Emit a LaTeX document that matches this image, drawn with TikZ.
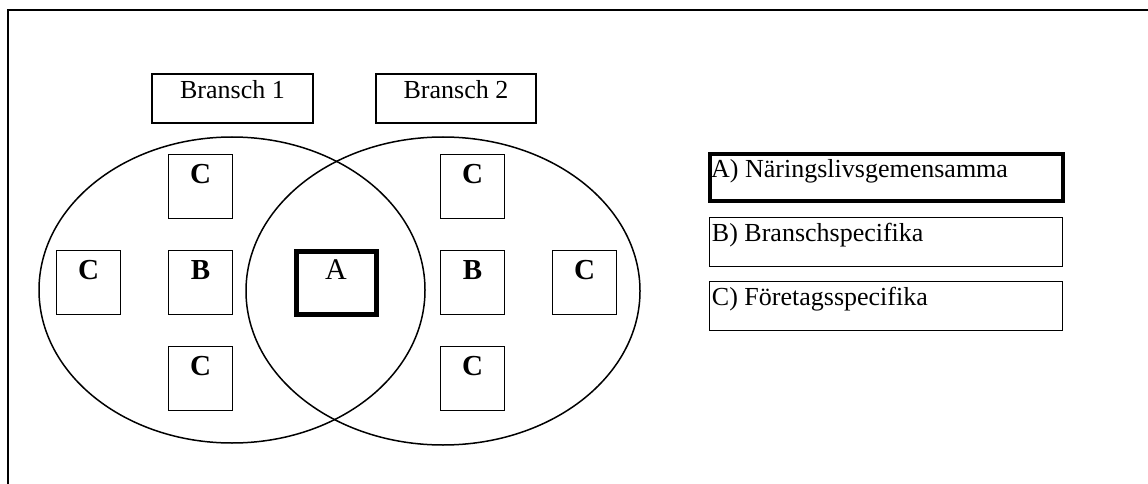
\documentclass[tikz,border=0pt]{standalone}
\usepackage{fontspec}
\setmainfont{Liberation Serif}
\usetikzlibrary{shapes.geometric}
\begin{document}
\begin{tikzpicture}[x=1pt,y=-1pt,
  thinline/.style={line width=1.5pt},
  brbox/.style={draw,thinline,rectangle,inner sep=0pt,minimum width=161,minimum height=49},
  sqbox/.style={draw,thinline,rectangle,inner sep=0pt,minimum width=64,minimum height=64},
  abox/.style={draw,line width=5pt,rectangle,inner sep=0pt,minimum width=80,minimum height=63},
  legbox/.style={draw,thinline,rectangle,inner sep=0pt,minimum width=353,minimum height=49},
  venn/.style={draw,thinline,ellipse,inner sep=0pt},
  txt/.style={font=\fontsize{26}{30}\selectfont,inner sep=0pt},
  big/.style={font=\fontsize{29}{32}\selectfont\bfseries,inner sep=0pt,anchor=base},
  bigA/.style={font=\fontsize{30}{32}\selectfont,inner sep=0pt,anchor=base}
]
\useasboundingbox (0,0) rectangle (1148,484);
\fill[white] (0,0) rectangle (1148,484);
% frame
\coordinate (fr1) at (1148,10);
\coordinate (fr2) at (8,10);
\coordinate (fr3) at (8,484);
\draw[line width=2pt] (fr1) -- (fr2) -- (fr3);

% ellipses
\node[venn,minimum width=386,minimum height=306] (e1) at (232,290) {};
\node[venn,minimum width=394,minimum height=308] (e2) at (443,291) {};

% bransch boxes
\node[brbox] (b1) at (232.5,98.5) {};
\node[brbox,minimum width=160] (b2) at (456,98.5) {};
\node[txt,anchor=base] at ([yshift=-25pt]b1.north) {Bransch 1};
\node[txt,anchor=base] at ([yshift=-25pt]b2.north) {Bransch 2};

% left set
\node[sqbox] (lc1) at (200.5,186.5) {};
\node[sqbox] (lc2) at (88.5,282.5) {};
\node[sqbox] (lb) at (200.5,282.5) {};
\node[sqbox] (lc3) at (200.5,378.5) {};
% right set
\node[sqbox] (rc1) at (472.5,186.5) {};
\node[sqbox] (rb) at (472.5,282.5) {};
\node[sqbox] (rc2) at (584.5,282.5) {};
\node[sqbox] (rc3) at (472.5,378.5) {};
% A
\node[abox] (a) at (336,282.5) {};

\foreach \n/\t in {lc1/C,lc2/C,lb/B,lc3/C,rc1/C,rb/B,rc2/C,rc3/C}
  \node[big] at ([yshift=-30pt]\n.north) {\t};
\node[bigA] at ([yshift=-31pt]a.north) {A};

% legend
\node[legbox,line width=4pt,minimum height=47] (la) at (886.5,177.5) {};
\node[legbox] (lbb) at (886,242) {};
\node[legbox] (lcc) at (886,306) {};
\node[txt,anchor=base west] at ([xshift=3pt,yshift=-25pt]la.north west) {A) Näringslivsgemensamma};
\node[txt,anchor=base west] at ([xshift=3pt,yshift=-25pt]lbb.north west) {B) Branschspecifika};
\node[txt,anchor=base west] at ([xshift=3pt,yshift=-25pt]lcc.north west) {C) Företagsspecifika};
\end{tikzpicture}
\end{document}
